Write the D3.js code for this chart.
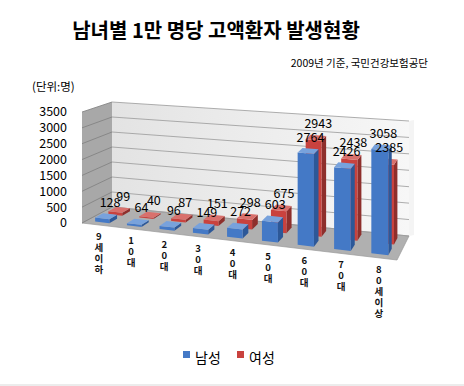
<!DOCTYPE html>
<html>
<head>
<meta charset="utf-8">
<script src="https://cdn.jsdelivr.net/npm/d3@7"></script>
<style>
  body { margin: 0; background: #fff; }
  text { font-family: "Noto Sans CJK KR", "Noto Sans", sans-serif; }
</style>
</head>
<body>
<svg width="464" height="386"></svg>
<script>
/* chart data */
var categories = ["9세이하", "10대", "20대", "30대", "40대", "50대", "60대", "70대", "80세이상"];
var male = [128, 64, 96, 149, 272, 603, 2764, 2426, 3058];
var female = [99, 40, 87, 151, 298, 675, 2943, 2438, 2385];
var seriesNames = ["남성", "여성"];
var yTicks = [0, 500, 1000, 1500, 2000, 2500, 3000, 3500];

var svg = d3.select("svg");

/* the floor corners of the 3d box, and how tall 3500 is at each side */
var frontEdge = d3.scaleLinear().domain([0, 1]).range([[82, 223], [397, 260]]),
    backEdge = d3.scaleLinear().domain([0, 1]).range([[112, 207], [409, 236]]),
    frontK = d3.scaleLinear().domain([0, 1]).range([111, 121]),
    backK = d3.scaleLinear().domain([0, 1]).range([105, 115]),
    hScale = d3.scaleLinear().domain([0, 3500]).range([0, 1]),
    uScale = d3.scaleLinear().domain([0, categories.length]).range([0, 1]);

/* right side is closer, so categories spread a bit */
function warp(t) { return 0.9 * t + 0.1 * t * t; }

function project(u, v, val) {
  var t = warp(u),
      f = frontEdge(t),
      b = backEdge(t),
      k = d3.interpolateNumber(frontK(t), backK(t))(v);
  return [f[0] + (b[0] - f[0]) * v, f[1] + (b[1] - f[1]) * v - k * hScale(val)];
}

function poly(pts) { return "M" + pts.map(function(p) { return p.join(","); }).join("L") + "Z"; }

var defs = svg.append("defs");
var wallGrad = defs.append("linearGradient").attr("id", "wall");
wallGrad.append("stop").attr("offset", "0%").attr("stop-color", "#e3e3e3");
wallGrad.append("stop").attr("offset", "100%").attr("stop-color", "#f7f7f7");

/* titles */
svg.append("text").attr("x", 216).attr("y", 38).attr("text-anchor", "middle")
    .attr("font-size", 20).attr("font-weight", "bold").text("남녀별 1만 명당 고액환자 발생현황");
svg.append("text").attr("x", 428).attr("y", 67).attr("text-anchor", "end")
    .attr("font-size", 10.5).text("2009년 기준, 국민건강보험공단");
svg.append("text").attr("x", 32).attr("y", 91)
    .attr("font-size", 11.5).text("(단위:명)");

var g = svg.append("g");

/* back wall, left wall and floor */
g.append("path")
    .attr("d", poly([project(0, 1, 0), project(1, 1, 0), project(1, 1, 3500), project(0, 1, 3500)]))
    .attr("fill", "url(#wall)");
g.append("path")
    .attr("d", poly([project(1, 1, 0), [project(1, 1, 0)[0] + 5, project(1, 1, 0)[1] - 1],
                     [project(1, 1, 3500)[0] + 5, project(1, 1, 3500)[1] - 1], project(1, 1, 3500)]))
    .attr("fill", "#f4f4f4");
g.append("path")
    .attr("d", poly([project(0, 0, 0), project(0, 1, 0), project(0, 1, 3500), project(0, 0, 3500)]))
    .attr("fill", "#a8a8a8");
g.append("path")
    .attr("d", poly([project(0, 0, 0), project(1, 0, 0), project(1, 1, 0), project(0, 1, 0)]))
    .attr("fill", "#b0b0b0").attr("stroke", "#9a9a9a").attr("stroke-width", 0.7);

/* gridlines on both walls */
yTicks.forEach(function(d) {
  var a = project(0, 0, d), b = project(0, 1, d), c = project(1, 1, d);
  g.append("path").attr("d", "M" + a + "L" + b).attr("stroke", "#7f7f7f").attr("stroke-width", 0.8).attr("fill", "none");
  g.append("path").attr("d", "M" + b + "L" + c).attr("stroke", "#999").attr("stroke-width", 0.8).attr("fill", "none");
  g.append("text").attr("x", a[0] - 15).attr("y", a[1]).attr("dy", "0.35em")
      .attr("text-anchor", "end").attr("font-size", 12.5).text(d);
});

/* bars: women in the back row, men in the front row */
var rows = [
  {values: female, v0: 0.6, v1: 0.87, front: "#c9423e", side: "#8e2f2c", top: "#d9706c"},
  {values: male, v0: 0.15, v1: 0.42, front: "#4479c6", side: "#2d5898", top: "#78a2dc"}
];
var bw = 0.45;

rows.forEach(function(r) {
  r.values.forEach(function(val, i) {
    var u0 = uScale(i + 0.5 - bw / 2), u1 = uScale(i + 0.5 + bw / 2);
    var bar = g.append("g");
    bar.append("path")
        .attr("d", poly([project(u1, r.v0, 0), project(u1, r.v1, 0), project(u1, r.v1, val), project(u1, r.v0, val)]))
        .attr("fill", r.side);
    bar.append("path")
        .attr("d", poly([project(u0, r.v0, 0), project(u1, r.v0, 0), project(u1, r.v0, val), project(u0, r.v0, val)]))
        .attr("fill", r.front);
    bar.append("path")
        .attr("d", poly([project(u0, r.v0, val), project(u1, r.v0, val), project(u1, r.v1, val), project(u0, r.v1, val)]))
        .attr("fill", r.top);
  });
});

/* value labels on top */
rows.forEach(function(r) {
  r.values.forEach(function(val, i) {
    var p = project(uScale(i + 0.5), r.v1, val);
    g.append("text").attr("x", p[0]).attr("y", p[1] - 7)
        .attr("text-anchor", "middle").attr("font-size", 12.5).text(val);
  });
});

/* category labels, one character per line */
categories.forEach(function(c, i) {
  var p = project(uScale(i + 0.5), 0, 0);
  var t = g.append("text").attr("font-size", 9.5).attr("font-weight", "bold")
      .attr("fill", "#111").attr("text-anchor", "middle");
  c.split("").forEach(function(ch, j) {
    t.append("tspan").attr("x", p[0] + 1).attr("y", p[1] + 15 + j * 11).text(ch);
  });
});

/* legend */
var legend = svg.append("g");
[[183, "#4479c6"], [237, "#c9423e"]].forEach(function(d, i) {
  legend.append("rect").attr("x", d[0]).attr("y", 351).attr("width", 7).attr("height", 7).attr("fill", d[1]);
  legend.append("text").attr("x", d[0] + 12).attr("y", 363).attr("font-size", 14).text(seriesNames[i]);
});

svg.append("line").attr("x1", 0).attr("x2", 464).attr("y1", 385).attr("y2", 385)
    .attr("stroke", "#d9d9d9");
</script>
</body>
</html>
